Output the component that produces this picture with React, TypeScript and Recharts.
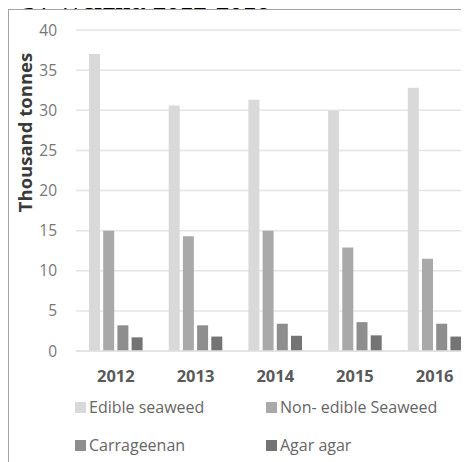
import React from 'react';
import { BarChart, Bar, XAxis, YAxis, CartesianGrid, Legend, Label } from 'recharts';

const years = ['2012', '2013', '2014', '2015', '2016'];
const edibleSeaweed = [37, 30.6, 31.3, 29.9, 32.8];
const nonEdibleSeaweed = [15, 14.3, 15, 12.9, 11.5];
const carrageenan = [3.2, 3.2, 3.4, 3.6, 3.4];
const agarAgar = [1.7, 1.8, 1.9, 1.95, 1.8];
const yTicks = [0, 5, 10, 15, 20, 25, 30, 35, 40];

const series = [
  { key: 'edible', name: 'Edible seaweed', color: '#d9d9d9' },
  { key: 'nonEdible', name: 'Non- edible Seaweed', color: '#a9a9a9' },
  { key: 'carrageenan', name: 'Carrageenan', color: '#8e8e8e' },
  { key: 'agar', name: 'Agar agar', color: '#747474' },
];

const data = years.map((year, i) => ({
  year,
  edible: edibleSeaweed[i],
  nonEdible: nonEdibleSeaweed[i],
  carrageenan: carrageenan[i],
  agar: agarAgar[i],
}));

const FONT = '"Open Sans", "Noto Sans", sans-serif';

const AxisTitle = (props: any) => {
  const vb = props.viewBox || { x: 0, y: 0 };
  const x = vb.x + 23.7;
  const y = vb.y + 102.5;
  return (
    <text
      x={x}
      y={y}
      transform={`rotate(-90 ${x} ${y})`}
      textAnchor="middle"
      fontFamily={FONT}
      fontWeight={700}
      fontSize={18.5}
      fill="#3a3a3a"
    >
      Thousand tonnes
    </text>
  );
};

// two-column legend in series order
const LegendGrid = () => (
  <div
    style={{
      display: 'grid',
      gridTemplateColumns: '191px 191px',
      gridAutoRows: '20px',
      rowGap: 18,
      fontFamily: FONT,
      fontSize: 16,
      color: '#666',
    }}
  >
    {series.map((s) => (
      <div key={s.key} style={{ display: 'flex', alignItems: 'center', whiteSpace: 'nowrap' }}>
        <span style={{ width: 11, height: 11, background: s.color, marginRight: 3, flex: 'none' }} />
        <span>{s.name}</span>
      </div>
    ))}
  </div>
);

export default function App() {
  return (
    <div style={{ position: 'relative', width: 461, height: 454 }}>
      <div
        style={{
          position: 'absolute',
          left: 14,
          top: -21.5,
          fontFamily: '"Liberation Serif", "Times New Roman", serif',
          fontWeight: 700,
          fontSize: 27,
          lineHeight: '27px',
          whiteSpace: 'nowrap',
          color: '#000',
        }}
      >
        by Weight, 2012-2016
      </div>
      <div
        style={{
          position: 'absolute',
          left: 0,
          top: 1,
          width: 461,
          height: 453,
          overflow: 'hidden',
          background: '#fff',
        }}
      >
        <BarChart
          width={470}
          height={453}
          data={data}
          margin={{ top: 21, right: 3.5, bottom: 71, left: 0 }}
          barSize={11}
          barGap={3.2}
        >
          <CartesianGrid vertical={false} stroke="#e4e4e4" strokeWidth={1.5} />
          <XAxis
            dataKey="year"
            height={40}
            tickLine={false}
            axisLine={{ stroke: '#e0e0e0', strokeWidth: 1.5 }}
            tickSize={0}
            tickMargin={19}
            tick={{ fontFamily: FONT, fontSize: 16.5, fontWeight: 700, fill: '#595959' }}
          />
          <YAxis
            width={68}
            domain={[0, 40]}
            ticks={yTicks}
            interval={0}
            tickLine={false}
            axisLine={false}
            tickSize={0}
            tickMargin={19}
            tick={{ fontFamily: FONT, fontSize: 15.5, fill: '#777' }}
          >
            <Label content={AxisTitle} />
          </YAxis>
          <Legend
            layout="horizontal"
            verticalAlign="middle"
            align="center"
            content={LegendGrid}
            wrapperStyle={{ left: 67, top: 388, width: 400 }}
          />
          {series.map((s) => (
            <Bar key={s.key} dataKey={s.key} name={s.name} fill={s.color} isAnimationActive={false} />
          ))}
        </BarChart>
      </div>
      <div
        style={{
          position: 'absolute',
          left: 0,
          top: 1,
          width: 461,
          height: 453,
          borderLeft: '1.5px solid #a3a3a3',
          borderTop: '1.5px solid #a3a3a3',
          boxSizing: 'border-box',
          pointerEvents: 'none',
        }}
      />
    </div>
  );
}
